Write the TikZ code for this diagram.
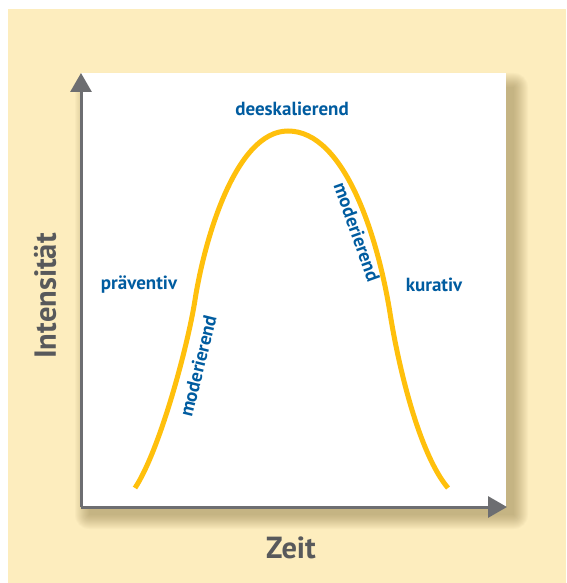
\documentclass[tikz,border=0pt]{standalone}
\usepackage{fontspec}
\setmainfont{PT Sans}
\usepackage{tikz}
\usetikzlibrary{arrows.meta}
\definecolor{PanelCream}{RGB}{253,237,190}
\definecolor{AxisGray}{RGB}{109,110,113}
\definecolor{LabelGray}{RGB}{88,89,91}
\definecolor{CurveYellow}{RGB}{255,192,12}
\definecolor{PhaseBlue}{RGB}{0,92,160}
\definecolor{ShadowTan}{RGB}{120,100,50}

\begin{document}
\begin{tikzpicture}[
  x=1pt, y=-1pt,
  phase/.style={font=\fontsize{19}{22}\selectfont\bfseries, text=PhaseBlue, inner sep=0pt},
  axlabel/.style={font=\fontsize{30.5}{36}\selectfont\bfseries, text=LabelGray, inner sep=0pt},
  axis/.style={draw=AxisGray, line width=3pt, -{Triangle[length=19pt, width=21pt]}},
  curve/.style={draw=CurveYellow, line width=5pt},
]
\useasboundingbox (0,0) rectangle (566,583);
%% Background
\fill[white] (0,0) rectangle (566,583);
\fill[PanelCream] (8,9) rectangle (566,583);
%% Soft shadow of the plot area
\foreach \s in {0,...,14}
  \fill[ShadowTan, opacity=0.03, rounded corners=\s pt]
    (89-\s,87-\s) rectangle (514+\s,515+\s);
%% Plot area
\fill[white] (81,73) rectangle (506,507);
%% Axes
\coordinate (origin) at (81,507);
\coordinate (ytip) at (81,73);
\coordinate (xtip) at (507,507);
\draw[axis] (origin) -- (ytip);
\draw[axis] (origin) -- (xtip);
%% Curve
\coordinate (start) at (135,488);
\coordinate (riseL) at (195,300);
\coordinate (peak) at (288,131);
\coordinate (fallR) at (390,313);
\coordinate (finish) at (448,488);
\draw[curve] (start) .. controls (160,450) and (188,345) .. (riseL)
  .. controls (204,242) and (235,131) .. (peak)
  .. controls (345,131) and (378,238) .. (fallR)
  .. controls (399,370) and (420,455) .. (finish);
%% Labels
\node[phase] (top) at (292,109) {deeskalierend};
\node[phase] (prev) at (139,285) {präventiv};
\node[phase] (kur) at (434,285) {kurativ};
\node[phase, rotate=76] (modl) at (198,366) {moderierend};
\node[phase, rotate=-70.5] (modr) at (357,232) {moderierend};
\node[axlabel, rotate=90] (ylab) at (45,296) {Intensität};
\node[axlabel] (xlab) at (291,548) {Zeit};
\end{tikzpicture}
\end{document}
